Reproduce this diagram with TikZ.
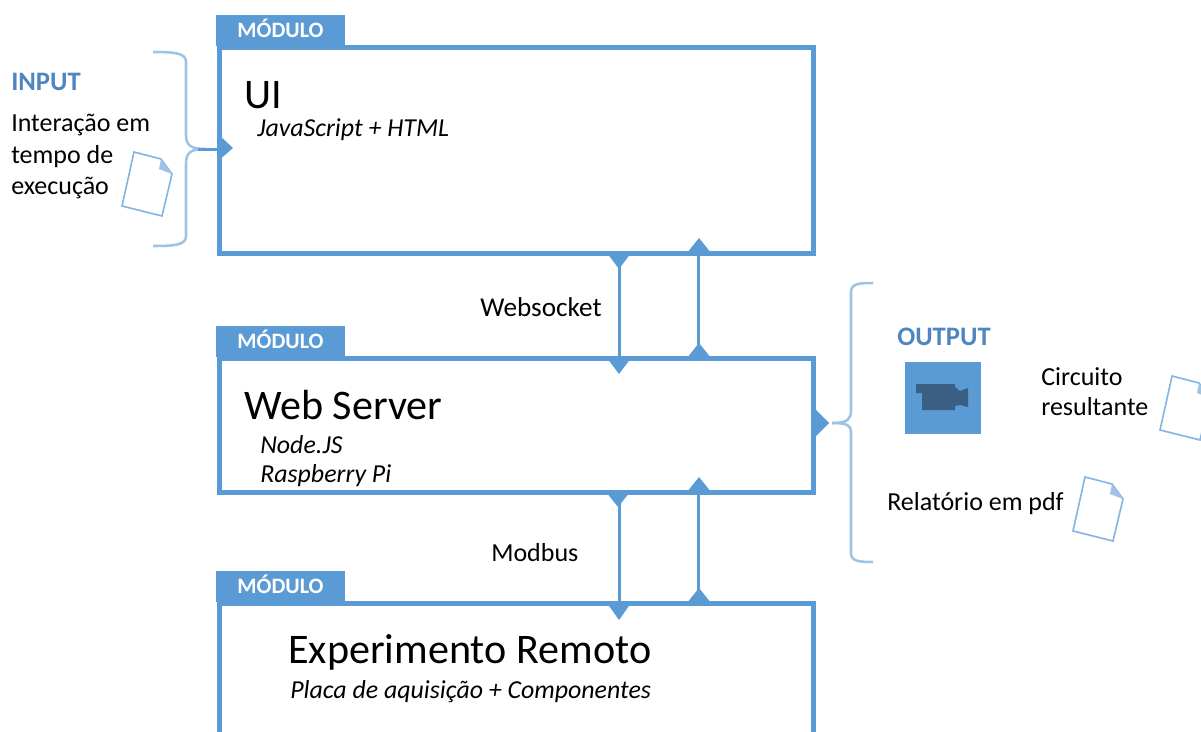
\documentclass[tikz,border=0pt]{standalone}
\usepackage{fontspec}
\setmainfont{Carlito}
\definecolor{bluem}{HTML}{5B9BD5}
\definecolor{bluel}{HTML}{9DC3E6}
\definecolor{bluet}{HTML}{4F86C0}
\definecolor{bluec}{HTML}{3A5F82}
\tikzset{
 x=0.75pt,y=-0.75pt,
 modbox/.style={draw=bluem,line width=3.75pt,fill=white,inner sep=0pt,outer sep=0pt},
 modtab/.style={fill=bluem,text=white,inner sep=0pt,minimum width=96.75pt,minimum height=23.25pt,font=\fontsize{16.5}{16.5}\selectfont\bfseries},
 title/.style={anchor=west,inner sep=0pt,font=\fontsize{31.6}{32}\selectfont},
 subt/.style={anchor=west,inner sep=0pt,font=\fontsize{19.4}{20}\selectfont\itshape},
 txt/.style={anchor=west,inner sep=0pt,font=\fontsize{19.5}{20}\selectfont},
 head/.style={anchor=west,inner sep=0pt,text=bluet,font=\fontsize{20}{20}\selectfont\bfseries},
 conn/.style={draw=bluem,line width=2.25pt},
 brace/.style={draw=bluel,line width=1.9pt},
 tip/.style={fill=bluem,draw=none},
 doc/.style={draw=bluem!75!white,line width=1.2pt,fill=white},
}
\newcommand{\docicon}[2]{%
 \begin{scope}[shift={(#1,#2)}]
 \filldraw[doc] (0,0) -- (27,7) -- (38,22) -- (28,64) -- (-12,54) -- cycle;
 \fill[bluel] (27,7) -- (38,22) -- (25,17) -- cycle;
 \end{scope}}
\begin{document}
\begin{tikzpicture}
\clip (0,0) rectangle (1201,731);
\useasboundingbox (0,0) rectangle (1201,731);
\fill[white] (0,0) rectangle (1201,731);
% boxes
\node[modbox,minimum width=445.5pt,minimum height=153.75pt] (ui) at (516,150.5) {};
\node[modbox,minimum width=445.5pt,minimum height=100.5pt] (web) at (516,425) {};
\node[modbox,minimum width=445.5pt,minimum height=150pt] (exp) at (516,703) {};
\node[modtab,text height=11pt,text depth=0pt] (tab1) at (280.5,30.5) {MÓDULO};
\node[modtab,text height=11pt,text depth=0pt] (tab2) at (280.5,341) {MÓDULO};
\node[modtab,text height=11pt,text depth=0pt] (tab3) at (280.5,586) {MÓDULO};
% connectors
\draw[conn] ([xshift=77.25pt]ui.south) -- ([xshift=77.25pt]web.north);
\draw[conn] ([xshift=136.5pt]ui.south) -- ([xshift=136.5pt]web.north);
\draw[conn] ([xshift=77.25pt]web.south) -- ([xshift=77.25pt]exp.north);
\draw[conn] ([xshift=136.5pt]web.south) -- ([xshift=136.5pt]exp.north);
% tips
\foreach \x/\a/\b in {619/253/269,619/358/374,618/492/507,619/603/620}{
 \fill[tip] (\x-12,\a) -- (\x+12,\a) -- (\x,\b) -- cycle;}
\foreach \x/\a/\b in {699/253/238,699/358/343,699/492/477,699/603/588}{
 \fill[tip] (\x-12,\a) -- (\x+12,\a) -- (\x,\b) -- cycle;}
\fill[tip] (218,134) -- (233,148) -- (218,161) -- cycle;
\fill[tip] (814,408) -- (829,423) -- (814,438) -- cycle;
% texts in boxes
\node[title] (t1) at (244,95) {UI};
\node[subt] (s1) at (257,130) {JavaScript + HTML};
\node[title] (t2) at (244,405) {Web Server};
\node[subt] (s2a) at (260,445) {Node.JS};
\node[subt] (s2b) at (260,476) {Raspberry Pi};
\node[title] (t3) at (288,652) {Experimento Remoto};
\node[subt] (s3) at (290,692) {Placa de aquisição + Componentes};
\node[txt,font=\fontsize{20.4}{20}\selectfont] (w) at (480,307) {Websocket};
\node[txt] (m) at (491,553) {Modbus};
% input
\node[head] (in) at (11,82) {INPUT};
\node[txt] (i1) at (11,125.5) {Interação em};
\node[txt] (i2) at (11,156.5) {tempo de};
\node[txt] (i3) at (11,187.5) {execução};
\docicon{134}{152}
\draw[brace] (153,52) .. controls (175,52) and (186,53) .. (186,62) -- (186,135) .. controls (186,146) and (192,149) .. (205,149);
\draw[brace] (153,246) .. controls (175,246) and (186,245) .. (186,236) -- (186,163) .. controls (186,152) and (192,149) .. (205,149);
\draw[conn,line width=1.9pt] (198,149.5) -- (218,149.5);
% output
\node[head] (out) at (897,337) {OUTPUT};
\fill[bluem] (905,362) rectangle (981,434);
\fill[bluec] (916,384) -- (955,384) -- (955,387) -- (960,391) -- (968,388) -- (968,407) -- (960,405) -- (955,406) -- (955,410) -- (922,410) -- (922,393) -- (916,393) -- cycle;
\node[txt] (o1) at (1041,377) {Circuito};
\node[txt] (o2) at (1041,407) {resultante};
\node[txt] (o3) at (887,503.5) {Relatório em pdf};
\docicon{1172}{376}
\docicon{1085}{477}
\draw[brace] (873,283) .. controls (858,283) and (851,284) .. (851,292) -- (851,410) .. controls (851,419) and (848,423) .. (832,423);
\draw[brace] (873,562) .. controls (858,562) and (851,561) .. (851,553) -- (851,432) .. controls (851,426) and (848,423) .. (832,423);
\end{tikzpicture}
\end{document}
